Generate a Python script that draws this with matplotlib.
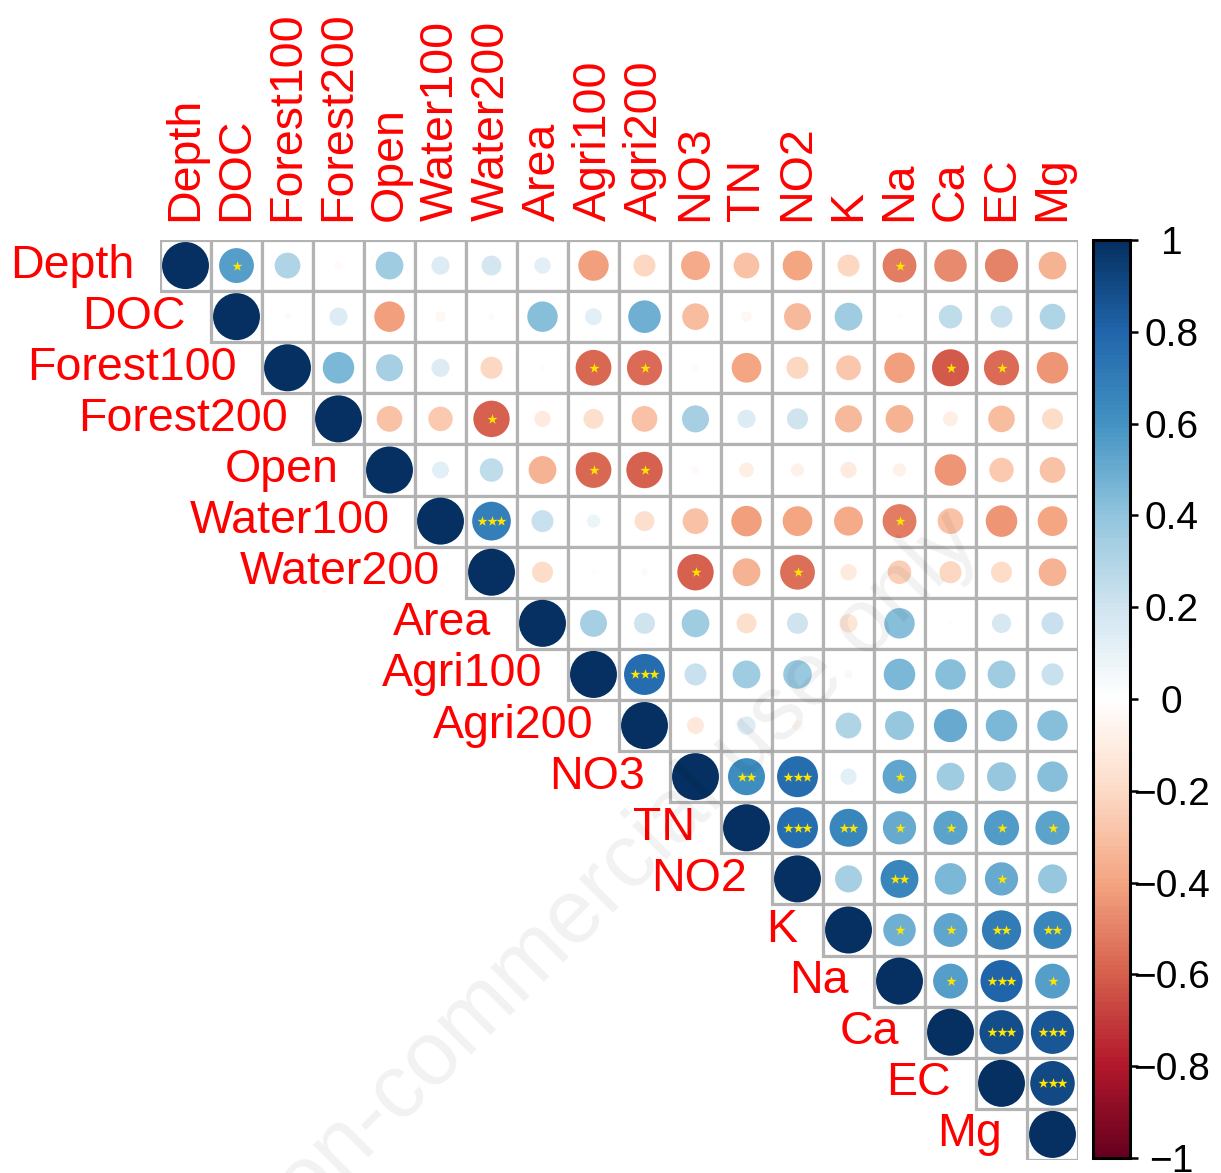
import numpy as np
import matplotlib
matplotlib.use('Agg')
import matplotlib.pyplot as plt
from matplotlib.patches import Circle, Rectangle
from matplotlib.colors import LinearSegmentedColormap, Normalize
from matplotlib.cm import ScalarMappable

# variable names, in matrix order
labels = ['Depth', 'DOC', 'Forest100', 'Forest200', 'Open', 'Water100', 'Water200',
          'Area', 'Agri100', 'Agri200', 'NO3', 'TN', 'NO2', 'K', 'Na', 'Ca', 'EC', 'Mg']

# upper triangle of the correlation matrix, row i holds columns i+1 .. end
r_depth = [0.55, 0.3, -0.03, 0.35, 0.15, 0.18, 0.12, -0.42, -0.22, -0.38, -0.3, -0.4, -0.22, -0.52, -0.48, -0.5, -0.35]
r_doc = [0.02, 0.15, -0.42, -0.05, 0.02, 0.42, 0.13, 0.48, -0.32, -0.05, -0.33, 0.35, 0.01, 0.25, 0.22, 0.3]
r_forest100 = [0.45, 0.33, 0.15, -0.22, -0.02, -0.58, -0.56, 0.02, -0.4, -0.22, -0.28, -0.42, -0.62, -0.56, -0.45]
r_forest200 = [-0.3, -0.27, -0.6, -0.12, -0.18, -0.3, 0.33, 0.15, 0.2, -0.33, -0.35, -0.1, -0.32, -0.2]
r_open = [0.13, 0.25, -0.35, -0.58, -0.6, -0.03, -0.1, -0.08, -0.12, -0.08, -0.45, -0.27, -0.3]
r_water100 = [0.68, 0.22, 0.08, -0.18, -0.3, -0.42, -0.4, -0.38, -0.52, -0.3, -0.45, -0.4]
r_water200 = [-0.2, 0.01, 0.02, -0.6, -0.35, -0.55, -0.12, -0.25, -0.22, -0.2, -0.35]
r_area = [0.33, 0.2, 0.35, -0.18, 0.2, -0.15, 0.42, 0.01, 0.17, 0.22]
r_agri100 = [0.76, 0.22, 0.35, 0.37, 0.03, 0.45, 0.42, 0.35, 0.22]
r_agri200 = [-0.13, 0.15, -0.05, 0.3, 0.38, 0.5, 0.45, 0.42]
r_no3 = [0.62, 0.76, 0.12, 0.52, 0.35, 0.38, 0.42]
r_tn = [0.76, 0.65, 0.5, 0.53, 0.56, 0.53]
r_no2 = [0.33, 0.65, 0.45, 0.5, 0.38]
r_k = [0.48, 0.52, 0.7, 0.65]
r_na = [0.55, 0.8, 0.55]
r_ca = [0.88, 0.85]
r_ec = [0.9]

# significance stars (count), same layout as above
s_depth = [1, 0, 0, 0, 0, 0, 0, 0, 0, 0, 0, 0, 0, 1, 0, 0, 0]
s_doc = [0] * 16
s_forest100 = [0, 0, 0, 0, 0, 1, 1, 0, 0, 0, 0, 0, 1, 1, 0]
s_forest200 = [0, 0, 1, 0, 0, 0, 0, 0, 0, 0, 0, 0, 0, 0]
s_open = [0, 0, 0, 1, 1, 0, 0, 0, 0, 0, 0, 0, 0]
s_water100 = [3, 0, 0, 0, 0, 0, 0, 0, 1, 0, 0, 0]
s_water200 = [0, 0, 0, 1, 0, 1, 0, 0, 0, 0, 0]
s_area = [0] * 10
s_agri100 = [3, 0, 0, 0, 0, 0, 0, 0, 0]
s_agri200 = [0] * 8
s_no3 = [2, 3, 0, 1, 0, 0, 0]
s_tn = [3, 2, 1, 1, 1, 1]
s_no2 = [0, 2, 0, 1, 0]
s_k = [1, 1, 2, 2]
s_na = [1, 3, 1]
s_ca = [3, 3]
s_ec = [3]

cbar_ticks = [-1, -0.8, -0.6, -0.4, -0.2, 0, 0.2, 0.4, 0.6, 0.8, 1]
cbar_labels = ['\u22121', '\u22120.8', '\u22120.6', '\u22120.4', '\u22120.2', '0',
               '0.2', '0.4', '0.6', '0.8', '1']

rows = [r_depth, r_doc, r_forest100, r_forest200, r_open, r_water100, r_water200,
        r_area, r_agri100, r_agri200, r_no3, r_tn, r_no2, r_k, r_na, r_ca, r_ec, []]
stars = [s_depth, s_doc, s_forest100, s_forest200, s_open, s_water100, s_water200,
         s_area, s_agri100, s_agri200, s_no3, s_tn, s_no2, s_k, s_na, s_ca, s_ec, []]

n = len(labels)
corr = np.eye(n)
sig = np.zeros((n, n), dtype=int)
for i in range(n):
    for k, v in enumerate(rows[i]):
        corr[i, i + 1 + k] = v
        sig[i, i + 1 + k] = stars[i][k]

plt.rcParams['font.family'] = ['Liberation Sans', 'DejaVu Sans']

cmap = LinearSegmentedColormap.from_list('rdbu2', [
    '#67001F', '#B2182B', '#D6604D', '#F4A582', '#FDDBC7', '#FFFFFF',
    '#D1E5F0', '#92C5DE', '#4393C3', '#2166AC', '#053061'], N=200)
norm = Normalize(vmin=-1, vmax=1)

W, H = 1221, 1173
fig = plt.figure(figsize=(W / 100, H / 100), dpi=100)
ax = fig.add_axes([160 / W, 1 - 1160 / H, 918 / W, 920 / H])
ax.set_xlim(-0.5, n - 0.5)
ax.set_ylim(n - 0.5, -0.5)
ax.axis('off')

grid_col = '#B3B3B3'
for i in range(n):
    for j in range(i, n):
        ax.add_patch(Rectangle((j - 0.5, i - 0.5), 1, 1, facecolor='white',
                               edgecolor=grid_col, lw=2.3, zorder=1))
        r = corr[i, j]
        ax.add_patch(Circle((j, i), 0.46 * np.sqrt(abs(r)), facecolor=cmap(norm(r)),
                            edgecolor='none', zorder=2))
        ns = sig[i, j]
        if ns:
            xs = j + (np.arange(ns) - (ns - 1) / 2) * 0.18
            ax.scatter(xs, np.full(ns, i), marker='*', s=58, color='#FFE600',
                       linewidths=0, zorder=3)

# row labels to the left of the diagonal, column labels on top
for i, name in enumerate(labels):
    ax.text(i - 1.0, i, name, ha='right', va='center', color='red', fontsize=33.5,
            clip_on=False)
    ax.text(i, -0.88, name, ha='center', va='bottom', rotation=90, color='red',
            fontsize=33.5, clip_on=False)

# colour key
cax = fig.add_axes([1093 / W, 1 - 1158 / H, 37 / W, 918 / H])
cb = fig.colorbar(ScalarMappable(norm=norm, cmap=cmap), cax=cax)
cb.outline.set_linewidth(2.2)
cb.set_ticks(cbar_ticks)
cb.set_ticklabels(cbar_labels)
cax.tick_params(axis='y', length=6, width=1.8, pad=24, labelsize=28)
for t in cax.get_yticklabels():
    t.set_horizontalalignment('center')

fig.text(605 / W, 1 - 888 / H, 'Non-commercial use only', rotation=45, ha='center',
         va='center', rotation_mode='anchor', fontsize=65, color=(0, 0, 0, 0.055),
         zorder=10)

fig.savefig('out.png', dpi=100, facecolor='white')
